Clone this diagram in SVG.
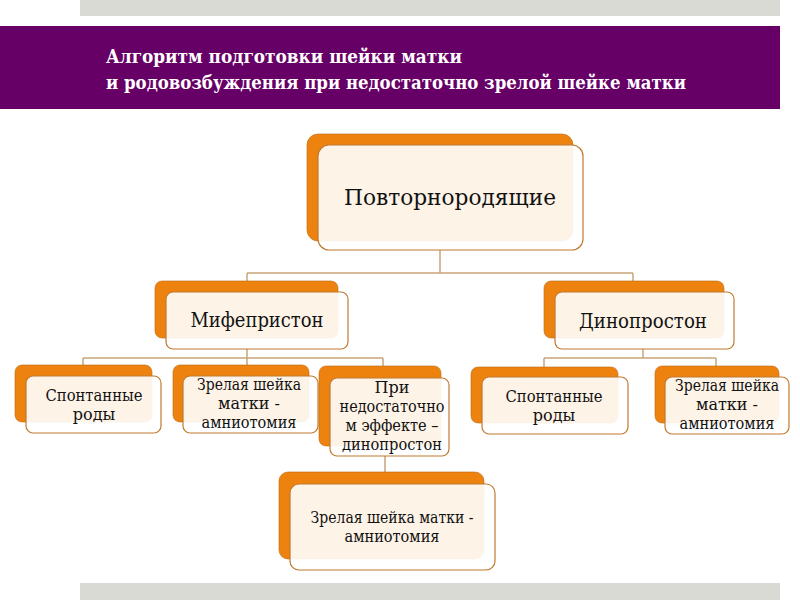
<svg xmlns="http://www.w3.org/2000/svg" width="800" height="600" viewBox="0 0 800 600">
<style>
.back{fill:#EE820E;stroke:#B86A10;stroke-width:0.6}
.front{fill:#FFFFFF;fill-opacity:0.9;stroke:#C07A30;stroke-width:1.2}
.t{fill:#111;text-anchor:middle;font-family:"DejaVu Serif",serif}
.conn{fill:none;stroke:#C9A577;stroke-width:1.5}
.title{font-weight:bold;fill:#FFFFFF;font-size:19px;font-family:"DejaVu Serif Condensed","DejaVu Serif",serif;font-stretch:condensed}
</style>
<rect width="800" height="600" fill="#FFFFFF"/>
<rect x="80" y="0" width="700" height="16" fill="#D9DAD3"/>
<rect x="0" y="26" width="780" height="83" fill="#660066"/>
<rect x="80" y="583" width="700" height="17" fill="#D9DAD3"/>
<text class="title" x="106" y="63" textLength="356" lengthAdjust="spacingAndGlyphs">Алгоритм  подготовки шейки матки</text>
<text class="title" x="106" y="89" textLength="580" lengthAdjust="spacingAndGlyphs">и родовозбуждения  при недостаточно  зрелой шейке матки</text>
<g id="connectors">
<path class="conn" d="M440 250V273M247 273H633M247 273V282M633 273V282"/>
<path class="conn" d="M247 349V358M83 358H383M83 358V366M247 358V366M383 358V367"/>
<path class="conn" d="M643 349V358M544 358H716M544 358V368M716 358V367"/>
<path class="conn" d="M385 456V473"/>
</g>
<g id="root">
<rect class="back" x="307" y="134" width="266" height="107" rx="11"/>
<rect class="front" x="318" y="145" width="265" height="105" rx="11"/>
<text class="t" x="450" y="205" font-size="22" textLength="212" lengthAdjust="spacingAndGlyphs">Повторнородящие</text>
</g>
<g id="mifepristone">
<rect class="back" x="155" y="281" width="183" height="57" rx="7"/>
<rect class="front" x="166" y="292" width="182" height="57" rx="7"/>
<text class="t" x="257" y="327" font-size="20" textLength="133" lengthAdjust="spacingAndGlyphs">Мифепристон</text>
</g>
<g id="dinoprostone">
<rect class="back" x="544" y="281" width="180" height="57" rx="7"/>
<rect class="front" x="555" y="292" width="179" height="57" rx="7"/>
<text class="t" x="643" y="328" font-size="20" textLength="128" lengthAdjust="spacingAndGlyphs">Динопростон</text>
</g>
<g id="m-spont">
<rect class="back" x="15" y="365" width="137" height="57" rx="7"/>
<rect class="front" x="26" y="376" width="135" height="57" rx="7"/>
<text class="t" x="94" y="401" font-size="16" textLength="97" lengthAdjust="spacingAndGlyphs">Спонтанные</text>
<text class="t" x="94" y="420" font-size="16">роды</text>
</g>
<g id="m-mature">
<rect class="back" x="173" y="365" width="136" height="57" rx="7"/>
<rect class="front" x="183" y="376" width="135" height="57" rx="7"/>
<text class="t" x="249" y="390" font-size="16" textLength="104" lengthAdjust="spacingAndGlyphs">Зрелая шейка</text>
<text class="t" x="249" y="409" font-size="16">матки -</text>
<text class="t" x="249" y="428" font-size="16" textLength="95" lengthAdjust="spacingAndGlyphs">амниотомия</text>
</g>
<g id="m-insufficient">
<rect class="back" x="319" y="366" width="122" height="80" rx="7"/>
<rect class="front" x="330" y="378" width="119" height="78" rx="7"/>
<text class="t" x="392" y="393" font-size="16">При</text>
<text class="t" x="392" y="412" font-size="16" textLength="105" lengthAdjust="spacingAndGlyphs">недостаточно</text>
<text class="t" x="392" y="431" font-size="16" textLength="93" lengthAdjust="spacingAndGlyphs">м эффекте –</text>
<text class="t" x="392" y="450" font-size="16" textLength="100" lengthAdjust="spacingAndGlyphs">динопростон</text>
</g>
<g id="m-final">
<rect class="back" x="279" y="472" width="205" height="87" rx="9"/>
<rect class="front" x="290" y="484" width="205" height="86" rx="9"/>
<text class="t" x="392" y="523" font-size="16" textLength="163" lengthAdjust="spacingAndGlyphs">Зрелая шейка матки -</text>
<text class="t" x="392" y="542" font-size="16" textLength="95" lengthAdjust="spacingAndGlyphs">амниотомия</text>
</g>
<g id="d-spont">
<rect class="back" x="471" y="367" width="147" height="56" rx="7"/>
<rect class="front" x="482" y="377" width="146" height="57" rx="7"/>
<text class="t" x="554" y="402" font-size="16" textLength="97" lengthAdjust="spacingAndGlyphs">Спонтанные</text>
<text class="t" x="554" y="421" font-size="16">роды</text>
</g>
<g id="d-mature">
<rect class="back" x="655" y="366" width="124" height="57" rx="7"/>
<rect class="front" x="665" y="377" width="124" height="57" rx="7"/>
<text class="t" x="727" y="391" font-size="16" textLength="104" lengthAdjust="spacingAndGlyphs">Зрелая шейка</text>
<text class="t" x="727" y="410" font-size="16">матки -</text>
<text class="t" x="727" y="429" font-size="16" textLength="95" lengthAdjust="spacingAndGlyphs">амниотомия</text>
</g>
</svg>
